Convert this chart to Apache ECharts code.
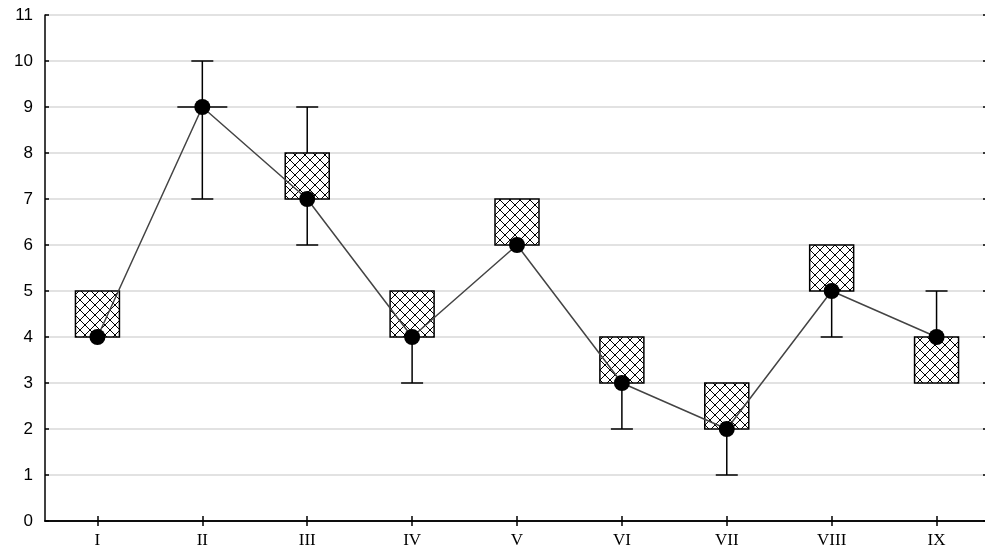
<!DOCTYPE html>
<html>
<head>
<meta charset="utf-8">
<script src="https://cdn.jsdelivr.net/npm/echarts@6/dist/echarts.min.js"></script>
<style>
html,body{margin:0;padding:0;background:#fff;}
#main{width:985px;height:550px;}
</style>
</head>
<body>
<div id="main"></div>
<script>
const categories = ['I','II','III','IV','V','VI','VII','VIII','IX'];
const medians = [4, 9, 7, 4, 6, 3, 2, 5, 4];
const q1 =      [4, 9, 7, 4, 6, 3, 2, 5, 3];
const q3 =      [5, 9, 8, 5, 7, 4, 3, 6, 4];
const mins =    [4, 7, 6, 3, 6, 2, 1, 4, 3];
const maxs =    [5,10, 9, 5, 7, 4, 3, 6, 5];
const yTicks = [0,1,2,3,4,5,6,7,8,9,10,11];

// cross-hatch pattern
const P = 10;
const pc = document.createElement('canvas');
pc.width = P; pc.height = P;
const pctx = pc.getContext('2d');
pctx.fillStyle = '#fff';
pctx.fillRect(0,0,P,P);
pctx.strokeStyle = '#000';
pctx.lineWidth = 1;
pctx.beginPath();
for (let k = -1; k <= 1; k++) {
  pctx.moveTo(k*P, 0); pctx.lineTo(k*P + P, P);
  pctx.moveTo(k*P + P, 0); pctx.lineTo(k*P, P);
}
pctx.stroke();
const hatch = {image: pc, repeat: 'repeat'};

const boxData = categories.map((c, i) => [i, mins[i], q1[i], q3[i], maxs[i]]);

const chart = echarts.init(document.getElementById('main'), null, {renderer: 'canvas'});

const axisLine = {show: true, lineStyle: {color: '#000', width: 1.5}};

chart.setOption({
  animation: false,
  backgroundColor: '#fff',
  grid: {left: 45, top: 15, width: 944, height: 506, containLabel: false, outerBoundsMode: 'none'},
  xAxis: [{
    type: 'category',
    data: categories,
    position: 'bottom',
    boundaryGap: true,
    axisLine: axisLine,
    axisTick: {show: true, inside: true, alignWithLabel: true, length: 5, lineStyle: {color: '#000', width: 1.5}},
    axisLabel: {color: '#000', fontFamily: 'Liberation Serif', fontSize: 17, margin: 11},
    splitLine: {show: false}
  }, {
    type: 'category',
    data: categories,
    position: 'top',
    boundaryGap: true,
    axisLine: axisLine,
    axisTick: {show: true, inside: true, alignWithLabel: true, length: 5, lineStyle: {color: '#000', width: 1.5}},
    axisLabel: {show: false},
    splitLine: {show: false}
  }],
  yAxis: [{
    type: 'value',
    min: yTicks[0],
    max: yTicks[yTicks.length - 1],
    interval: 1,
    position: 'left',
    axisLine: axisLine,
    axisTick: {show: true, inside: true, length: 4, lineStyle: {color: '#000', width: 1.5}},
    axisLabel: {color: '#000', fontFamily: 'Liberation Sans', fontSize: 17, margin: 12},
    splitLine: {show: true, lineStyle: {color: '#d9d9d9', width: 1.5}}
  }, {
    type: 'value',
    min: yTicks[0],
    max: yTicks[yTicks.length - 1],
    interval: 1,
    position: 'right',
    axisLine: axisLine,
    axisTick: {show: true, inside: true, length: 6, lineStyle: {color: '#000', width: 1.5}},
    axisLabel: {show: false},
    splitLine: {show: false}
  }],
  series: [{
    type: 'custom',
    xAxisIndex: 0,
    yAxisIndex: 0,
    z: 2,
    data: boxData,
    encode: {x: 0, y: [1, 2, 3, 4]},
    renderItem: function (params, api) {
      const idx = api.value(0);
      const vMin = api.value(1), vQ1 = api.value(2), vQ3 = api.value(3), vMax = api.value(4);
      const pMin = api.coord([idx, vMin]);
      const pQ1 = api.coord([idx, vQ1]);
      const pQ3 = api.coord([idx, vQ3]);
      const pMax = api.coord([idx, vMax]);
      const cx = pMin[0];
      const bw = 44, cw = 22;
      const lineStyle = {stroke: '#000', lineWidth: 1.5};
      const children = [];
      if (vMin < vQ1) {
        children.push({type: 'line', shape: {x1: cx, y1: pMin[1], x2: cx, y2: pQ1[1]}, style: lineStyle});
        children.push({type: 'line', shape: {x1: cx - cw/2, y1: pMin[1], x2: cx + cw/2, y2: pMin[1]}, style: lineStyle});
      }
      if (vMax > vQ3) {
        children.push({type: 'line', shape: {x1: cx, y1: pMax[1], x2: cx, y2: pQ3[1]}, style: lineStyle});
        children.push({type: 'line', shape: {x1: cx - cw/2, y1: pMax[1], x2: cx + cw/2, y2: pMax[1]}, style: lineStyle});
      }
      if (vQ3 > vQ1) {
        children.push({type: 'rect', shape: {x: cx - bw/2, y: pQ3[1], width: bw, height: pQ1[1] - pQ3[1]},
          style: {fill: hatch, stroke: '#000', lineWidth: 1.5}});
      } else {
        children.push({type: 'line', shape: {x1: cx - 25, y1: pQ1[1], x2: cx + 25, y2: pQ1[1]}, style: lineStyle});
      }
      return {type: 'group', children: children};
    }
  }, {
    type: 'line',
    xAxisIndex: 0,
    yAxisIndex: 0,
    z: 3,
    data: medians,
    symbol: 'circle',
    symbolSize: 16,
    itemStyle: {color: '#000'},
    lineStyle: {color: '#444', width: 1.5}
  }]
});
</script>
</body>
</html>
